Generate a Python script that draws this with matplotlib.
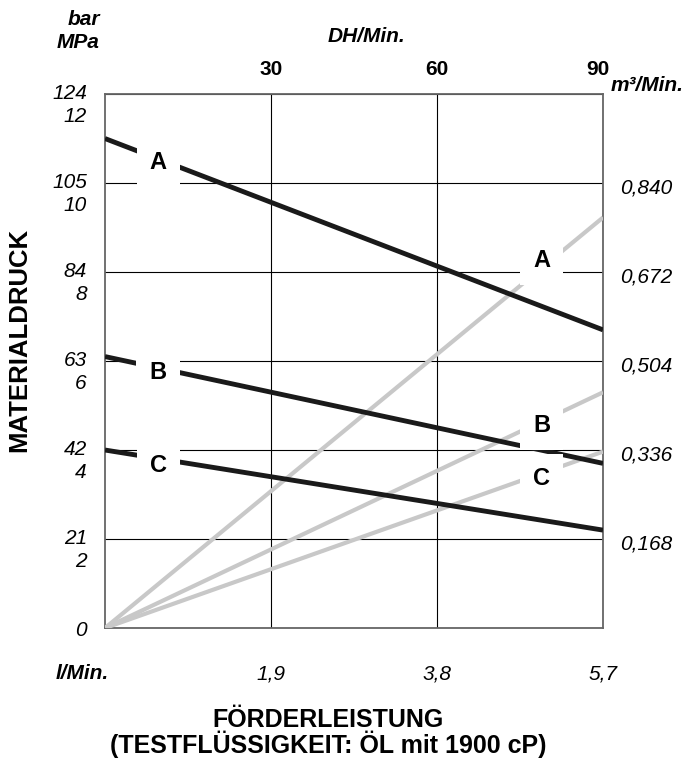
import matplotlib
matplotlib.use("Agg")
import matplotlib.pyplot as plt
from matplotlib.transforms import ScaledTranslation

plt.rcParams['font.family'] = ['Liberation Sans', 'DejaVu Sans']

# Förderleistung l/Min. (x), Materialdruck MPa (black), Luftverbrauch m3/Min. (grey)
flow = [0.0, 5.7]
press_a = [11.0, 6.7]
press_b = [6.1, 3.7]
press_c = [4.0, 2.2]
air_a = [0.0, 0.775]
air_b = [0.0, 0.445]
air_c = [0.0, 0.333]

mpa_ticks = [0, 2, 4, 6, 8, 10, 12]
bar_labels = ['0', '21\n2', '42\n4', '63\n6', '84\n8', '105\n10', '124\n12']
lmin_ticks = [1.9, 3.8, 5.7]
lmin_labels = ['1,9', '3,8', '5,7']
dh_ticks = [30, 60, 90]
m3_ticks = [0.168, 0.336, 0.504, 0.672, 0.840]
m3_labels = ['0,168', '0,336', '0,504', '0,672', '0,840']

fig = plt.figure(figsize=(6.88, 7.67), dpi=100)
ax = fig.add_axes([0.1526, 0.1812, 0.7239, 0.6962])
ax.set_xlim(0, 5.7)
ax.set_ylim(0, 12)

# grid
ax.set_xticks(lmin_ticks)
ax.set_xticklabels(lmin_labels, fontsize=15, style='italic')
ax.set_yticks(mpa_ticks)
ax.set_yticklabels(bar_labels, fontsize=15, style='italic', linespacing=1.3)
ax.tick_params(axis='x', length=0, pad=26)
ax.tick_params(axis='y', length=0, pad=13)
down = ScaledTranslation(0, -5 / 72, fig.dpi_scale_trans)
for t in ax.get_yticklabels()[1:]:
    t.set_transform(t.get_transform() + down)
ax.grid(True, color='black', linewidth=0.8, zorder=1)
ax.set_axisbelow(True)
for side, sp in ax.spines.items():
    sp.set_color('#666666')
    sp.set_linewidth(1.3)
    sp.set_zorder(6)

# grey lines on right axis (m3/Min.)
ax2 = ax.twinx()
ax2.set_ylim(0, 12 * 0.084)
ax2.set_yticks(m3_ticks)
ax2.set_yticklabels(m3_labels, fontsize=15, style='italic')
ax2.tick_params(axis='y', length=0, pad=12)
down_r = ScaledTranslation(0, -2 / 72, fig.dpi_scale_trans)
for t in ax2.get_yticklabels():
    t.set_transform(t.get_transform() + down_r)
for sp in ax2.spines.values():
    sp.set_visible(False)
grey = '#c8c8c8'
for vals in (air_a, air_b, air_c):
    ax2.plot(flow, vals, color=grey, lw=3.0, solid_capstyle='butt', zorder=2)

# black pressure lines drawn above the grey ones
ax3 = ax.twinx()
ax3.set_ylim(0, 12)
ax3.set_yticks([])
for sp in ax3.spines.values():
    sp.set_visible(False)
for vals in (press_a, press_b, press_c):
    ax3.plot(flow, vals, color='#1a1a1a', lw=3.5, solid_capstyle='butt', zorder=3)

box = dict(boxstyle='square,pad=0.55', fc='white', ec='none')
for lab, yy in (('A', 10.47), ('B', 5.75), ('C', 3.66)):
    ax3.text(0.607, yy, lab, fontsize=17, fontweight='bold', ha='center',
             va='center', bbox=box, zorder=5)
for lab, yy in (('A', 8.27), ('B', 4.56), ('C', 3.37)):
    ax3.text(5.0, yy, lab, fontsize=17, fontweight='bold', ha='center',
             va='center', bbox=box, zorder=5)

# top axis DH/Min.
axt = ax.twiny()
axt.set_xlim(0, 90)
axt.set_xticks(dh_ticks)
axt.set_xticklabels([str(t) for t in dh_ticks], fontsize=15, fontweight='bold')
axt.tick_params(axis='x', length=0, pad=11)
left90 = ScaledTranslation(-4 / 72, 0, fig.dpi_scale_trans)
t90 = axt.get_xticklabels()[-1]
t90.set_transform(t90.get_transform() + left90)
for sp in axt.spines.values():
    sp.set_visible(False)

fig.text(0.145, 0.975, 'bar', fontsize=15, fontweight='bold', style='italic',
         ha='right', va='center')
fig.text(0.145, 0.945, 'MPa', fontsize=15, fontweight='bold', style='italic',
         ha='right', va='center')
fig.text(0.532, 0.953, 'DH/Min.', fontsize=15, fontweight='bold', style='italic',
         ha='center', va='center')
fig.text(0.888, 0.889, 'm³/Min.', fontsize=15, fontweight='bold', style='italic',
         ha='left', va='center')
fig.text(0.119, 0.1225, 'l/Min.', fontsize=15, fontweight='bold', style='italic',
         ha='center', va='center')
fig.text(0.028, 0.557, 'MATERIALDRUCK', fontsize=18.5, fontweight='bold',
         rotation=90, ha='center', va='center')
fig.text(0.477, 0.044, 'FÖRDERLEISTUNG\n(TESTFLÜSSIGKEIT: ÖL mit 1900 cP)',
         fontsize=18, fontweight='bold', ha='center', va='center',
         linespacing=0.95)

fig.savefig('out.png', dpi=100)
